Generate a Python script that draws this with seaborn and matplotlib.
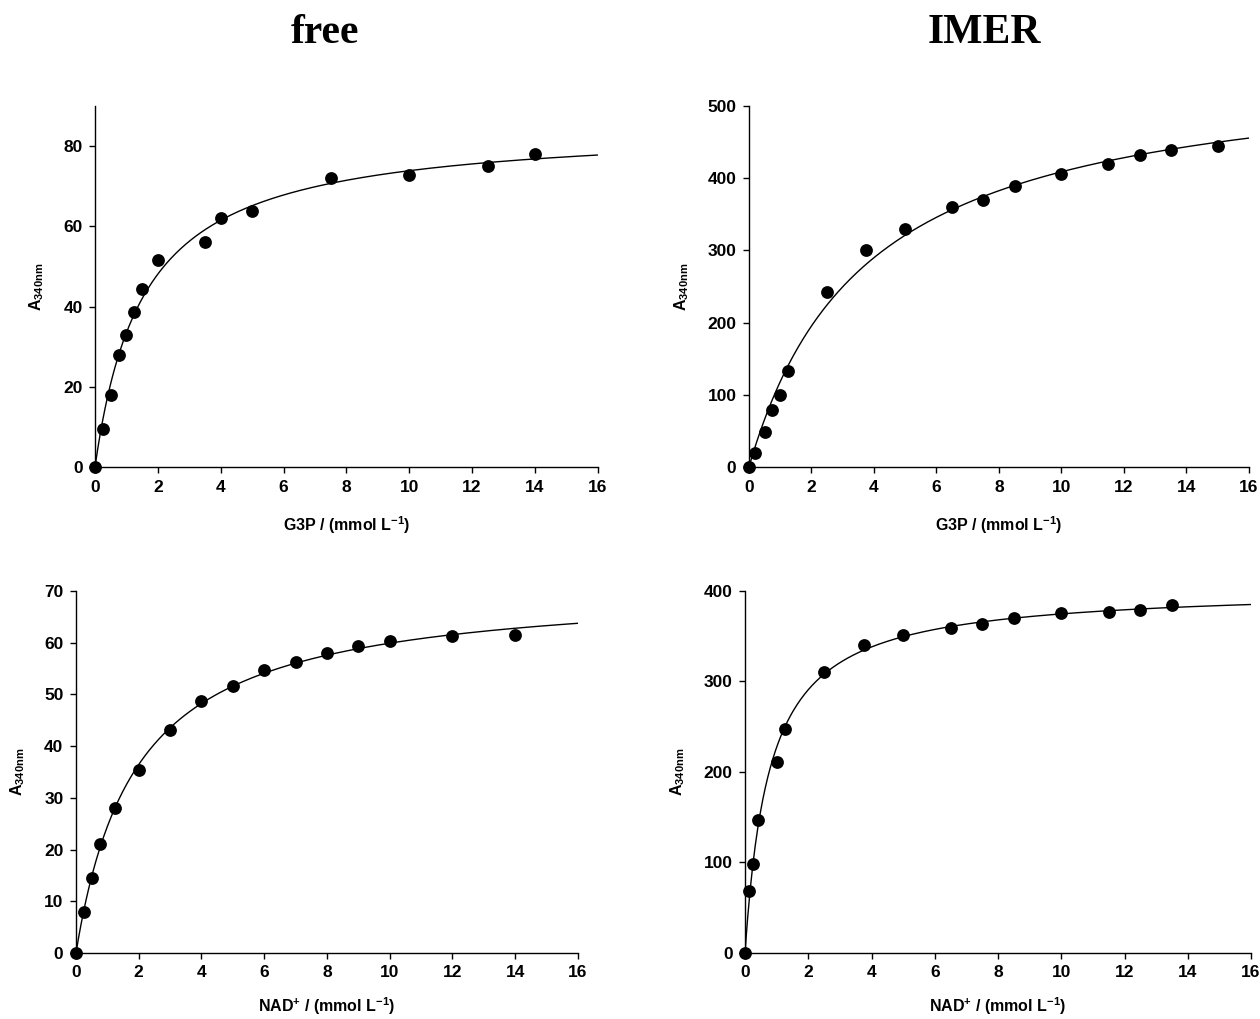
import numpy as np
import pandas as pd
import seaborn as sns
import matplotlib.pyplot as plt

# free enzyme, G3P varied
free_g3p_x = [0, 0.25, 0.5, 0.75, 1.0, 1.25, 1.5, 2.0, 3.5, 4.0, 5.0, 7.5, 10.0, 12.5, 14.0]
free_g3p_y = [0, 9.5, 18.0, 28.0, 32.8, 38.7, 44.3, 51.7, 56.0, 62.1, 63.9, 72.0, 72.9, 75.0, 78.0]

# IMER, G3P varied
imer_g3p_x = [0, 0.2, 0.5, 0.75, 1.0, 1.25, 2.5, 3.75, 5.0, 6.5, 7.5, 8.5, 10.0, 11.5, 12.5, 13.5, 15.0]
imer_g3p_y = [0, 19, 48, 79, 100, 133, 242, 301, 330, 360, 370, 389, 406, 420, 432, 439, 445]

# free enzyme, NAD+ varied
free_nad_x = [0, 0.25, 0.5, 0.75, 1.25, 2.0, 3.0, 4.0, 5.0, 6.0, 7.0, 8.0, 9.0, 10.0, 12.0, 14.0]
free_nad_y = [0, 8.0, 14.4, 21.0, 28.0, 35.3, 43.2, 48.8, 51.6, 54.7, 56.2, 58.0, 59.4, 60.3, 61.3, 61.4]

# IMER, NAD+ varied
imer_nad_x = [0, 0.125, 0.25, 0.4, 1.0, 1.25, 2.5, 3.75, 5.0, 6.5, 7.5, 8.5, 10.0, 11.5, 12.5, 13.5]
imer_nad_y = [0, 68, 98, 147, 211, 247, 310, 340, 351, 359, 364, 370, 376, 377, 379, 384]

titles = ["free", "IMER"]
g3p_label = r"G3P / (mmol L$^{-1}$)"
nad_label = r"NAD$^{+}$ / (mmol L$^{-1}$)"
y_label = r"A$_{340nm}$"


def mm_fit(x, y):
    # simple Michaelis-Menten least squares: scan Km, Vmax in closed form
    x = np.asarray(x, float)
    y = np.asarray(y, float)
    best = None
    for km in np.linspace(0.02, 20, 5000):
        f = x / (km + x)
        vmax = (f @ y) / (f @ f)
        err = ((y - vmax * f) ** 2).sum()
        if best is None or err < best[0]:
            best = (err, km, vmax)
    return best[1], best[2]


sns.set_style("ticks")
plt.rcParams["font.family"] = ["Liberation Sans", "DejaVu Sans"]
plt.rcParams["font.weight"] = "bold"
plt.rcParams["text.color"] = "black"
plt.rcParams["axes.labelcolor"] = "black"
plt.rcParams["mathtext.fontset"] = "custom"
plt.rcParams["mathtext.rm"] = "Liberation Sans:bold"
plt.rcParams["mathtext.it"] = "Liberation Sans:bold"
plt.rcParams["mathtext.bf"] = "Liberation Sans:bold"

fig = plt.figure(figsize=(12.6, 10.19), dpi=100)

panels = [
    # x, y, rect, ymax, ystep, xlabel, xlabel pad
    (free_g3p_x, free_g3p_y, [0.0754, 0.5417, 0.399, 0.3543], 90, 20, g3p_label, 14),
    (imer_g3p_x, imer_g3p_y, [0.5944, 0.5417, 0.3968, 0.3543], 500, 100, g3p_label, 14),
    (free_nad_x, free_nad_y, [0.0603, 0.0648, 0.3984, 0.3553], 70, 10, nad_label, 11),
    (imer_nad_x, imer_nad_y, [0.5913, 0.0648, 0.4016, 0.3553], 400, 100, nad_label, 11),
]

for x, y, rect, ymax, ystep, xlabel, xpad in panels:
    ax = fig.add_axes(rect)
    km, vmax = mm_fit(x, y)
    xs = np.linspace(0, 16, 400)
    fit = pd.DataFrame({"x": xs, "y": vmax * xs / (km + xs)})
    df = pd.DataFrame({"x": x, "y": y})
    sns.lineplot(data=fit, x="x", y="y", ax=ax, color="black", linewidth=1.0)
    sns.scatterplot(data=df, x="x", y="y", ax=ax, color="black", s=85,
                    edgecolor="black", linewidth=0, clip_on=False, zorder=3)
    ax.set_xlim(0, 16)
    ax.set_ylim(0, ymax)
    ax.set_xticks(range(0, 17, 2))
    ax.set_yticks(range(0, ymax + 1, ystep))
    ax.set_xlabel(xlabel, fontsize=11.5, fontweight="bold", labelpad=xpad)
    ax.set_ylabel(y_label, fontsize=11.5, fontweight="bold", labelpad=12)
    ax.tick_params(direction="out", length=4, width=1, labelsize=12.5,
                   colors="black", pad=5)
    for lab in ax.get_xticklabels() + ax.get_yticklabels():
        lab.set_fontweight("bold")
    sns.despine(ax=ax, top=True, right=True)
    for sp in ("left", "bottom"):
        ax.spines[sp].set_linewidth(1.0)
        ax.spines[sp].set_color("black")

fig.text(0.258, 0.968, titles[0], ha="center", va="center", fontsize=30,
         fontweight="bold", color="black", family=["Liberation Serif", "DejaVu Serif"])
fig.text(0.781, 0.968, titles[1], ha="center", va="center", fontsize=30,
         fontweight="bold", color="black", family=["Liberation Serif", "DejaVu Serif"])

fig.savefig("out.png", dpi=100)
